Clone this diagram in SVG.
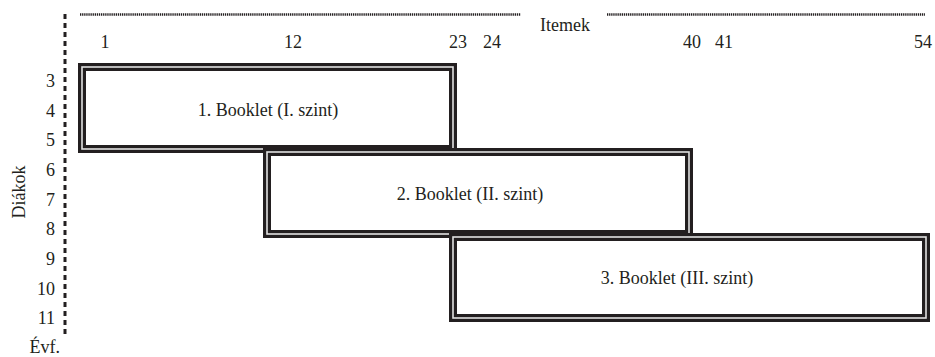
<svg xmlns="http://www.w3.org/2000/svg" width="935" height="357" viewBox="0 0 935 357">
  <style>
    text { font-family: "Liberation Serif", "DejaVu Serif", "Times New Roman", serif; font-size: 18px; fill: #231f20; }
    .mid { text-anchor: middle; }
    .end { text-anchor: end; }
    .frame-out { fill: none; stroke: #231f20; stroke-width: 8; }
    .frame-in { fill: none; stroke: #e2e2e2; stroke-width: 1.6; }
    .dots { stroke: #231f20; stroke-width: 2.5; stroke-dasharray: 1.3 0.8; fill: none; }
    .dash { stroke: #231f20; stroke-width: 3; stroke-dasharray: 5 4; fill: none; }
  </style>

  <!-- axes -->
  <g id="axes">
    <line class="dash" x1="65" y1="14" x2="65" y2="337"/>
    <line class="dots" x1="80" y1="14.5" x2="521" y2="14.5"/>
    <line class="dots" x1="607" y1="14.5" x2="925" y2="14.5"/>
    <text class="mid" x="565" y="31">Itemek</text>
    <text class="mid" x="105" y="48">1</text>
    <text class="mid" x="293" y="48">12</text>
    <text class="mid" x="458" y="48">23</text>
    <text class="mid" x="492" y="48">24</text>
    <text class="mid" x="692" y="48">40</text>
    <text class="mid" x="724" y="48">41</text>
    <text class="mid" x="923" y="48">54</text>
    <text class="end" x="55" y="87">3</text>
    <text class="end" x="55" y="117">4</text>
    <text class="end" x="55" y="146">5</text>
    <text class="end" x="55" y="176">6</text>
    <text class="end" x="55" y="206">7</text>
    <text class="end" x="55" y="235">8</text>
    <text class="end" x="55" y="265">9</text>
    <text class="end" x="55" y="295">10</text>
    <text class="end" x="55" y="324">11</text>
    <text class="end" x="60" y="353">Évf.</text>
    <text class="mid" transform="translate(24.5 192) rotate(-90)">Diákok</text>
  </g>

  <!-- booklet blocks -->
  <g id="booklet1">
    <rect class="frame-out" x="82" y="67" width="371" height="82"/>
    <rect class="frame-in" x="82" y="67" width="371" height="82"/>
    <text class="mid" x="268" y="116">1. Booklet (I. szint)</text>
  </g>
  <g id="booklet2">
    <rect class="frame-out" x="267" y="152" width="422" height="82"/>
    <rect class="frame-in" x="267" y="152" width="422" height="82"/>
    <text class="mid" x="470" y="200">2. Booklet (II. szint)</text>
  </g>
  <g id="booklet3">
    <rect class="frame-out" x="453" y="237" width="473" height="81"/>
    <rect class="frame-in" x="453" y="237" width="473" height="81"/>
    <text class="mid" x="677" y="284">3. Booklet (III. szint)</text>
  </g>

  <g id="connectors"></g>
</svg>
